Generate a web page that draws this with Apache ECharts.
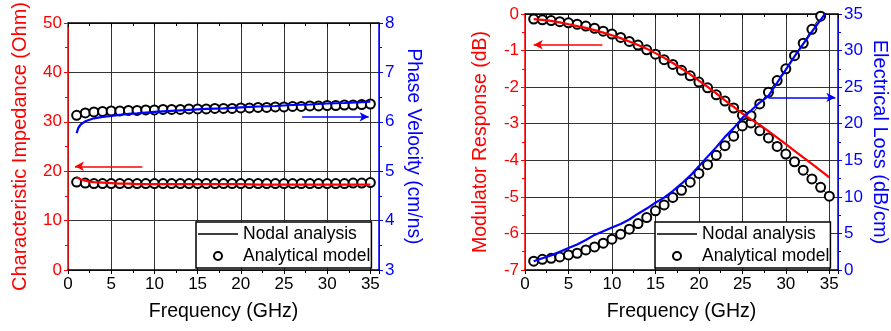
<!DOCTYPE html>
<html><head><meta charset="utf-8">
<script src="https://cdn.jsdelivr.net/npm/echarts@6/dist/echarts.min.js"></script>
<style>html,body{margin:0;padding:0;background:#fff}#c{width:891px;height:331px}</style>
</head><body><div id="c"></div>
<script>
// ---- data ----
const freq = [1,2,3,4,5,6,7,8,9,10,11,12,13,14,15,16,17,18,19,20,21,22,23,24,25,26,27,28,29,30,31,32,33,34,35];
const nodalFreq = [1,1.2,1.5,2,2.5,3,4,5,6,7,8,10,12,14,16,18,20,22,24,26,28,30,32,34,35];
// Left panel
const impedanceNodal = [18.8,18.5,18.3,18.1,17.9,17.8,17.7,17.6,17.5,17.5,17.4,17.4,17.4,17.4,17.4,17.4,17.4,17.3,17.3,17.3,17.3,17.3,17.3,17.3,17.3];
const impedanceModel = [17.8,17.6,17.5,17.5,17.5,17.5,17.5,17.5,17.5,17.5,17.5,17.5,17.5,17.5,17.5,17.5,17.5,17.5,17.5,17.5,17.5,17.5,17.5,17.5,17.5,17.5,17.5,17.5,17.5,17.5,17.5,17.5,17.6,17.6,17.7];
const velocityNodal = [5.77,5.88,5.95,6.01,6.04,6.07,6.10,6.12,6.14,6.16,6.17,6.20,6.22,6.24,6.26,6.27,6.29,6.31,6.32,6.34,6.35,6.37,6.38,6.40,6.41];
const velocityModel = [6.13,6.18,6.20,6.21,6.22,6.22,6.23,6.23,6.24,6.24,6.25,6.25,6.25,6.26,6.26,6.26,6.27,6.27,6.27,6.28,6.28,6.29,6.29,6.30,6.30,6.31,6.31,6.32,6.32,6.33,6.33,6.34,6.34,6.35,6.36];
// Right panel
const responseNodal = [-0.14,-0.16,-0.19,-0.23,-0.28,-0.33,-0.38,-0.44,-0.51,-0.58,-0.66,-0.75,-0.85,-0.95,-1.07,-1.20,-1.34,-1.49,-1.65,-1.82,-1.99,-2.17,-2.36,-2.54,-2.72,-2.88,-3.03,-3.20,-3.38,-3.56,-3.74,-3.92,-4.10,-4.28,-4.47];
const responseModel = [-0.14,-0.16,-0.18,-0.21,-0.24,-0.28,-0.33,-0.39,-0.47,-0.55,-0.64,-0.75,-0.85,-0.98,-1.10,-1.25,-1.38,-1.54,-1.69,-1.86,-2.02,-2.21,-2.38,-2.57,-2.77,-2.98,-3.19,-3.39,-3.62,-3.83,-4.04,-4.27,-4.51,-4.74,-4.98];
const lossNodal = [1.2,1.6,2.0,2.5,3.0,3.5,4.1,4.8,5.3,5.8,6.3,6.9,7.7,8.4,9.2,9.9,10.8,11.8,12.9,14.2,15.5,16.8,18.2,19.4,20.8,21.8,22.9,23.8,25.6,27.4,29.2,30.9,32.6,34.2,35.8];
const lossModel = [1.2,1.46,1.6,1.78,2.06,2.29,2.74,3.15,3.66,4.21,4.9,5.58,6.35,7.17,8.09,8.9,9.92,10.9,12.0,13.2,14.4,15.7,17.0,18.3,19.7,21.1,22.7,24.3,25.9,27.5,29.3,31.0,32.9,34.7,36.6];
// annotation arrows [x0,y0,x1,y1] in data units
const arrowImp = [8.6,21,0.8,21];
const arrowVel = [27.1,6.1,34.8,6.1];
const arrowResp = [8.9,-0.84,1.0,-0.84];
const arrowLoss = [28.0,23.6,35.7,23.6];
const xTicks = [0,5,10,15,20,25,30,35];

const FONT = '"Liberation Sans", Arial, sans-serif';
const RED = '#ff0000', BLUE = '#0000ff';
const pairs = (xs, ys) => xs.map((x, i) => [x, ys[i]]);

function bottomX(gi) {
  return {
    type:'value', gridIndex:gi, min:0, max:36, interval:5, position:'bottom',
    name:'Frequency (GHz)', nameLocation:'middle', nameGap:32,
    nameTextStyle:{fontFamily:FONT, fontSize:19.5, color:'#000'},
    axisLine:{show:true, onZero:false, lineStyle:{color:'#000', width:1.5}},
    axisTick:{show:true, inside:false, length:4, lineStyle:{color:'#000'}},
    minorTick:{show:true, splitNumber:2, length:3, lineStyle:{color:'#000'}},
    axisLabel:{fontFamily:FONT, fontSize:17, color:'#000', margin:6,
      formatter: v => xTicks.indexOf(v) >= 0 ? String(v) : ''},
    splitLine:{show:true, lineStyle:{color:'#333', width:1}}
  };
}
function topX(gi) {
  return {
    type:'value', gridIndex:gi, min:0, max:36, interval:5, position:'top',
    axisLine:{show:true, onZero:false, lineStyle:{color:'#000', width:1.5}},
    axisTick:{show:true, inside:true, length:4, lineStyle:{color:'#000'}},
    minorTick:{show:true, splitNumber:2, length:3, lineStyle:{color:'#000'}},
    axisLabel:{show:false}, splitLine:{show:false}
  };
}
function yAx(gi, pos, min, max, interval, name, color, gap, rot, split, fs) {
  return {
    type:'value', gridIndex:gi, position:pos, min:min, max:max, interval:interval,
    name:name, nameLocation:'middle', nameGap:gap, nameRotate:rot,
    nameTextStyle:{fontFamily:FONT, fontSize:fs, color:color},
    axisLine:{show:true, onZero:false, lineStyle:{color:color, width:1.5}},
    axisTick:{show:true, inside:false, length:4, lineStyle:{color:color}},
    minorTick:{show:true, splitNumber:2, length:3, lineStyle:{color:color}},
    axisLabel:{fontFamily:FONT, fontSize:17, color:color, margin:6},
    splitLine:{show:split, lineStyle:{color:'#333', width:1}}
  };
}
function arrowLine(a, color) {
  return {
    silent:true, symbol:['none','arrow'], symbolSize:[7,9], label:{show:false},
    lineStyle:{color:color, width:1.5, type:'solid'}, emphasis:{disabled:true},
    data:[[{coord:[a[0],a[1]]},{coord:[a[2],a[3]]}]]
  };
}
function modelSeries(name, xi, yi, data, lineW) {
  return {
    name:name, type:'line', xAxisIndex:xi, yAxisIndex:yi, data:data,
    symbol:'emptyCircle', symbolSize:9, showSymbol:true, z:3,
    itemStyle:{color:'#000', borderColor:'#000', borderWidth:1.3},
    lineStyle:{color:'#000', width:lineW, opacity: lineW > 0 ? 1 : 0},
    animation:false
  };
}
function nodalSeries(xi, yi, data, color, arrow) {
  return {
    type:'line', xAxisIndex:xi, yAxisIndex:yi, data:data, symbol:'none', z:4,
    lineStyle:{color:color, width:2.2}, itemStyle:{color:color}, animation:false,
    markLine: arrowLine(arrow, color)
  };
}
function legendAt(left) {
  return {
    left:left, top:222, orient:'vertical', itemGap:4, itemWidth:40, itemHeight:10,
    padding:[3,1,3,2], borderColor:'#000', borderWidth:1.5, backgroundColor:'#fff',
    textStyle:{fontFamily:FONT, fontSize:17.5, color:'#000'},
    selectedMode:false,
    data:[
      {name:'Nodal analysis', icon:'path://M0,0L40,0L40,1.6L0,1.6Z'},
      {name:'Analytical model'}
    ]
  };
}

const chart = echarts.init(document.getElementById('c'), null, {width:891, height:331});
chart.setOption({
  animation:false,
  backgroundColor:'#fff',
  grid:[
    {left:68, top:16, width:311, height:254},
    {left:525, top:14, width:314, height:256}
  ],
  xAxis:[bottomX(0), topX(0), bottomX(1), topX(1)],
  yAxis:[
    yAx(0,'left',0,50,10,'Characteristic Impedance (Ohm)',RED,38,90,true,20),
    yAx(0,'right',3,8,1,'Phase Velocity (cm/ns)',BLUE,25,-90,false,19.3),
    yAx(1,'left',-7,0,1,'Modulator Response (dB)',RED,34,90,true,19.5),
    yAx(1,'right',0,35,5,'Electrical Loss (dB/cm)',BLUE,32,-90,false,20)
  ],
  legend:[legendAt(196), legendAt(655)],
  series:[
    {name:'Nodal analysis', type:'line', xAxisIndex:0, yAxisIndex:0, data:[], symbol:'none',
      lineStyle:{color:'#000', width:1.5}, itemStyle:{color:'#000'}},
    {name:'Analytical model', type:'line', xAxisIndex:0, yAxisIndex:0, data:[], symbol:'emptyCircle', symbolSize:9,
      lineStyle:{color:'#000', width:0, opacity:0}, itemStyle:{color:'#000', borderColor:'#000', borderWidth:1.3}},
    nodalSeries(0, 0, pairs(nodalFreq, impedanceNodal), RED, arrowImp),
    nodalSeries(0, 1, pairs(nodalFreq, velocityNodal), BLUE, arrowVel),
    modelSeries('Impedance model', 0, 0, pairs(freq, impedanceModel), 0),
    modelSeries('Velocity model', 0, 1, pairs(freq, velocityModel), 0),
    nodalSeries(2, 2, pairs(freq, responseNodal), RED, arrowResp),
    nodalSeries(2, 3, pairs(freq, lossNodal), BLUE, arrowLoss),
    modelSeries('Response model', 2, 2, pairs(freq, responseModel), 1),
    modelSeries('Loss model', 2, 3, pairs(freq, lossModel), 1)
  ]
});
</script>
</body></html>
